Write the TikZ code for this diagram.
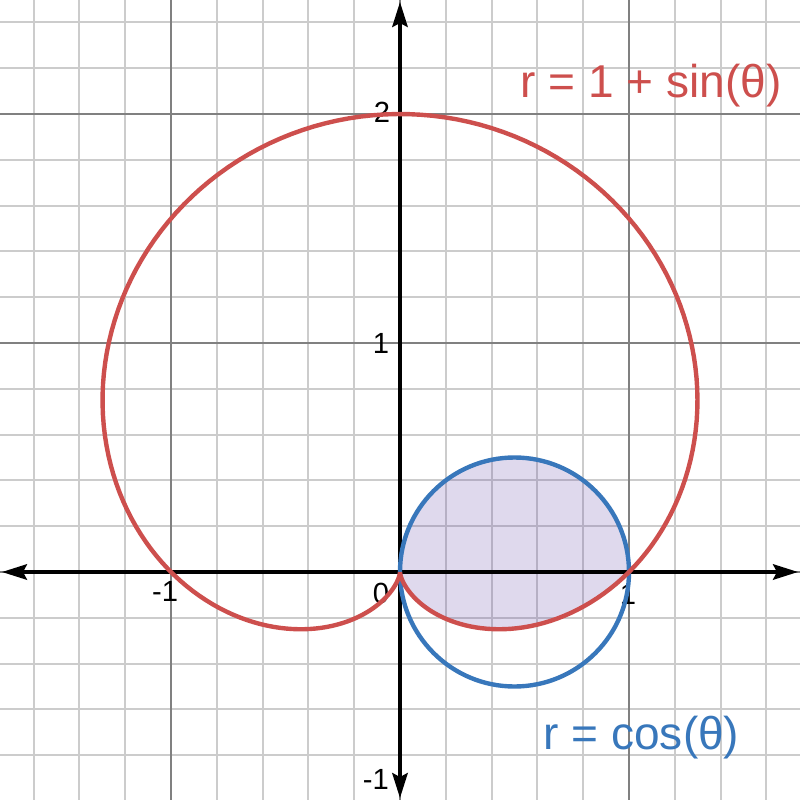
\documentclass[tikz,border=0pt]{standalone}
\usepackage{fontspec}
\setmainfont{Liberation Sans}
\usetikzlibrary{arrows.meta}
\definecolor{curvered}{HTML}{CD4F4D}
\definecolor{curveblue}{HTML}{3877BB}
\definecolor{shadepurple}{HTML}{6042A6}

\begin{document}
\begin{tikzpicture}[x=2.29cm, y=2.29cm,
    minorgrid/.style={black!20, line width=0.57pt},
    majorgrid/.style={black!50, line width=0.57pt},
    axis/.style={black, line width=0.95pt,
        {Stealth[length=0.25cm, width=0.155cm, inset=0.04cm]}-{Stealth[length=0.25cm, width=0.155cm, inset=0.04cm]}},
    curve/.style={line width=1.25pt},
    tick/.style={font=\fontsize{8.3pt}{10pt}\selectfont, inner sep=0pt},
    curvelabel/.style={font=\fontsize{13.1pt}{15pt}\selectfont, inner sep=0pt, anchor=base west}]
    \coordinate (SW) at (-1.7467, -0.9956);
    \coordinate (NE) at (1.7467, 2.4978);
    \coordinate (xmin) at (-1.738, 0);
    \coordinate (xmax) at (1.738, 0);
    \coordinate (ymin) at (0, -0.987);
    \coordinate (ymax) at (0, 2.489);
    \useasboundingbox (SW) rectangle (NE);

    % grid
    \draw[minorgrid, step=0.2] (SW) grid (NE);
    \draw[majorgrid, step=1] (SW) grid (NE);

    % shaded region inside both curves
    \fill[shadepurple, fill opacity=0.2] (1,0) arc[start angle=0, end angle=180, radius=0.5]
        -- plot[domain=-90:0, samples=80] ({(1+sin(\x))*cos(\x)}, {(1+sin(\x))*sin(\x)}) -- cycle;

    % axes
    \draw[axis] (xmin) -- (xmax);
    \draw[axis] (ymin) -- (ymax);

    % tick labels
    \node[tick] (ytwo) at (-0.079, 2.009) {2};
    \node[tick] (yone) at (-0.083, 1.0) {1};
    \node[tick] (zero) at (-0.083, -0.092) {0};
    \node[tick] (xone) at (0.996, -0.096) {1};
    \node[tick] (xmone) at (-1.026, -0.087) {-1};
    \node[tick] (ymone) at (-0.105, -0.908) {-1};

    % curves
    \draw[curve, curveblue] (0.5,0) circle (0.5);
    \draw[curve, curvered] plot[domain=0:360, samples=240]
        ({(1+sin(\x))*cos(\x)}, {(1+sin(\x))*sin(\x)});

    \node[curvelabel, curvered] (cardioid) at (0.524, 2.070) {r = 1 + sin(θ)};
    \node[curvelabel, curveblue] (circ) at (0.624, -0.777) {r = cos(θ)};
\end{tikzpicture}
\end{document}
